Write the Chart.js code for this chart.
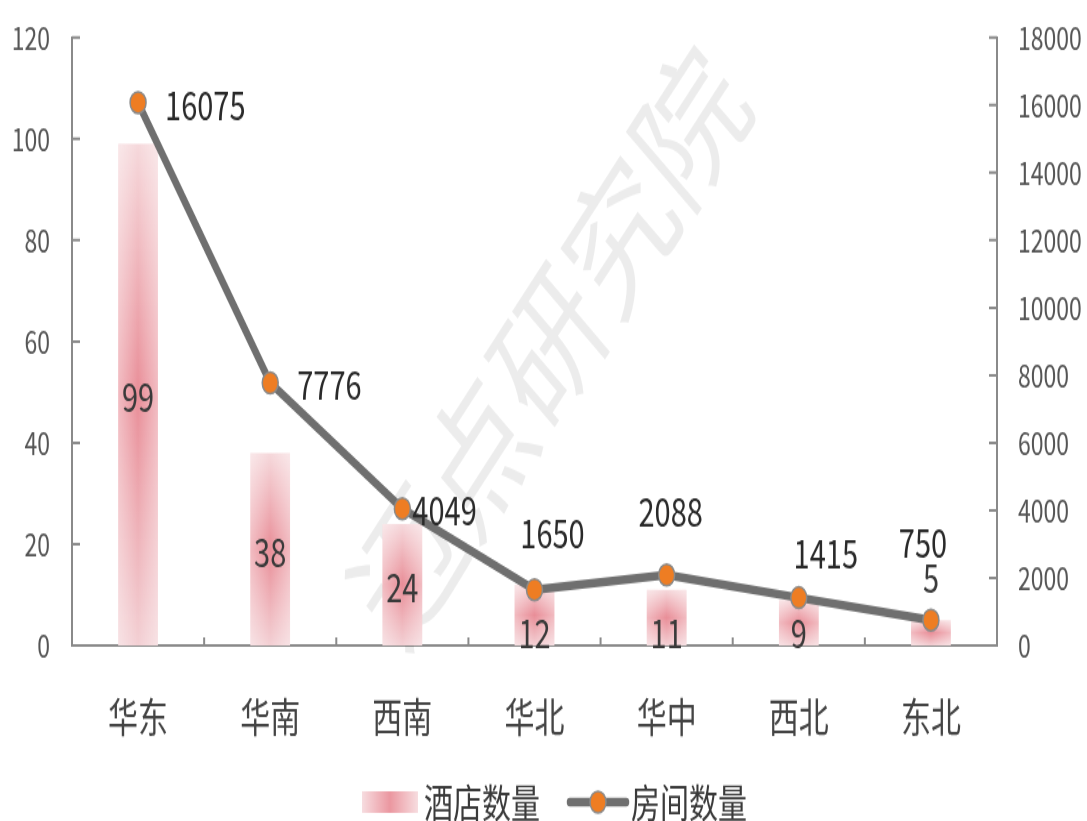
<!DOCTYPE html>
<html>
<head>
<meta charset="utf-8">
<script src="https://cdn.jsdelivr.net/npm/chart.js@4/dist/chart.umd.min.js"></script>
<style>
  html, body { margin: 0; padding: 0; background: #fff; }
</style>
</head>
<body>
<!-- drawn short and stretched tall, like the original export -->
<canvas id="chart" width="1087" height="608" style="display:block;width:1087px;height:821px"></canvas>
<script>
// ── data ──
const regions = ['华东', '华南', '西南', '华北', '华中', '西北', '东北'];
const hotelCounts = [99, 38, 24, 12, 11, 9, 5];
const roomCounts = [16075, 7776, 4049, 1650, 2088, 1415, 750];
const leftTicks = [0, 20, 40, 60, 80, 100, 120];
const rightTicks = [0, 2000, 4000, 6000, 8000, 10000, 12000, 14000, 16000, 18000];

const FONT = '"Noto Sans CJK SC", "Noto Sans", sans-serif';
const TEXT = '#3a3a3a';
const AXIS = '#8a8a8a';

// where each room label sits relative to its point: [dx, dy, align]
const roomLabelPos = [
  [27, 2, 'left'], [27, 1, 'left'], [10, 1, 'left'],
  [18, -42, 'center'], [4, -47, 'center'], [27, -33, 'center'], [-8, -57, 'center']
];

function barGradient(ctx, top, base) {
  const g = ctx.createLinearGradient(0, top, 0, base);
  g.addColorStop(0, '#f6d9dc');
  g.addColorStop(0.5, '#e98e98');
  g.addColorStop(1, '#f3d0d4');
  return g;
}

// watermark behind the marks
const watermark = {
  id: 'watermark',
  beforeDatasetsDraw(chart) {
    const ctx = chart.ctx;
    ctx.save();
    ctx.translate(548, 256);
    ctx.rotate(-49 * Math.PI / 180);
    ctx.font = '108px ' + FONT;
    ctx.fillStyle = 'rgba(0,0,0,0.075)';
    ctx.textAlign = 'center';
    ctx.textBaseline = 'middle';
    ctx.fillText('迈点研究院', 0, 0);
    ctx.restore();
  }
};

// inward tick marks on all three axes
const innerTicks = {
  id: 'innerTicks',
  afterDraw(chart) {
    const ctx = chart.ctx;
    const { y, y1 } = chart.scales;
    const area = chart.chartArea;
    ctx.save();
    ctx.strokeStyle = AXIS;
    ctx.lineWidth = 2;
    ctx.beginPath();
    leftTicks.forEach(v => {
      const py = y.getPixelForValue(v);
      ctx.moveTo(area.left, py); ctx.lineTo(area.left + 8, py);
    });
    rightTicks.forEach(v => {
      const py = y1.getPixelForValue(v);
      ctx.moveTo(area.right, py); ctx.lineTo(area.right - 8, py);
    });
    const step = (area.right - area.left) / regions.length;
    for (let i = 1; i < regions.length; i++) {
      const px = area.left + step * i;
      ctx.moveTo(px, area.bottom); ctx.lineTo(px, area.bottom - 6);
    }
    ctx.stroke();
    ctx.restore();
  }
};

// soften bar edges and write the values
const barDecor = {
  id: 'barDecor',
  afterDatasetDraw(chart, args) {
    const ctx = chart.ctx;
    if (args.index === 1) {
      const meta = chart.getDatasetMeta(1);
      ctx.save();
      meta.data.forEach(bar => {
        const l = bar.x - bar.width / 2, r = bar.x + bar.width / 2;
        const g = ctx.createLinearGradient(l, 0, r, 0);
        g.addColorStop(0, 'rgba(255,255,255,0.4)');
        g.addColorStop(0.5, 'rgba(255,255,255,0)');
        g.addColorStop(1, 'rgba(255,255,255,0.4)');
        ctx.fillStyle = g;
        ctx.fillRect(l, bar.y, bar.width, bar.base - bar.y);
      });
      ctx.font = '29px ' + FONT;
      ctx.fillStyle = TEXT;
      ctx.textAlign = 'center';
      ctx.textBaseline = 'middle';
      meta.data.forEach((bar, i) => {
        const h = bar.base - bar.y;
        let ly = (bar.y + bar.base) / 2 + 2;
        if (h < 52 && hotelCounts[i] >= 9) ly = bar.base - 9;
        else if (h < 52) ly = bar.y - 31;
        ctx.fillText(String(hotelCounts[i]), bar.x, ly);
      });
      ctx.restore();
    }
    if (args.index === 0) {
      const meta = chart.getDatasetMeta(0);
      ctx.save();
      ctx.font = '29px ' + FONT;
      ctx.fillStyle = '#2a2a2a';
      ctx.textBaseline = 'middle';
      meta.data.forEach((pt, i) => {
        const [dx, dy, align] = roomLabelPos[i];
        ctx.textAlign = align;
        ctx.fillText(String(roomCounts[i]), pt.x + dx, pt.y + dy);
      });
      ctx.restore();
    }
  }
};

// legend under the axis
const bottomLegend = {
  id: 'bottomLegend',
  afterDraw(chart) {
    const ctx = chart.ctx;
    const cy = 594;
    ctx.save();
    const g = ctx.createLinearGradient(362, 0, 418, 0);
    g.addColorStop(0, '#f7dde0');
    g.addColorStop(0.5, '#eb97a0');
    g.addColorStop(1, '#f7dde0');
    ctx.fillStyle = g;
    ctx.fillRect(362, cy - 8, 56, 16);
    ctx.font = '29px ' + FONT;
    ctx.fillStyle = TEXT;
    ctx.textBaseline = 'middle';
    ctx.textAlign = 'left';
    ctx.fillText('酒店数量', 424, cy + 1);

    ctx.strokeStyle = '#6f6f6f';
    ctx.lineWidth = 6.5;
    ctx.lineCap = 'round';
    ctx.beginPath();
    ctx.moveTo(570, cy); ctx.lineTo(626, cy);
    ctx.stroke();
    ctx.beginPath();
    ctx.arc(598, cy, 8, 0, Math.PI * 2);
    ctx.fillStyle = '#ee7d23';
    ctx.fill();
    ctx.lineWidth = 1.5;
    ctx.strokeStyle = '#8a8a8a';
    ctx.stroke();
    ctx.fillStyle = TEXT;
    ctx.fillText('房间数量', 631, cy + 1);
    ctx.restore();
  }
};

const ctx = document.getElementById('chart').getContext('2d');

new Chart(ctx, {
  data: {
    labels: regions,
    datasets: [
      {
        type: 'line',
        label: '房间数量',
        data: roomCounts,
        yAxisID: 'y1',
        order: 0,
        borderColor: '#6f6f6f',
        borderWidth: 6.5,
        tension: 0,
        pointRadius: 8,
        pointBackgroundColor: '#ee7d23',
        pointBorderColor: '#8a8a8a',
        pointBorderWidth: 1.5
      },
      {
        type: 'bar',
        label: '酒店数量',
        data: hotelCounts,
        yAxisID: 'y',
        order: 1,
        categoryPercentage: 1,
        barPercentage: 0.3,
        backgroundColor: (c) => {
          const ys = c.chart.scales.y;
          if (!ys || c.raw == null) return '#eb97a0';
          const top = ys.getPixelForValue(c.raw);
          const base = ys.getPixelForValue(0);
          if (!isFinite(top) || !isFinite(base) || top === base) return '#eb97a0';
          return barGradient(c.chart.ctx, top, base);
        }
      }
    ]
  },
  options: {
    responsive: false,
    devicePixelRatio: 1,
    animation: false,
    layout: { padding: { top: 10, left: 0, right: 0, bottom: 0 } },
    plugins: {
      legend: { display: false },
      tooltip: { enabled: false }
    },
    scales: {
      x: {
        grid: { display: false },
        border: { display: true, color: AXIS, width: 2 },
        ticks: {
          color: '#444',
          font: { family: FONT, size: 30 },
          padding: 27
        },
        afterFit: (s) => { s.height = 608 - 478; }
      },
      y: {
        position: 'left',
        min: 0,
        max: 120,
        grid: { display: false },
        border: { display: true, color: AXIS, width: 2 },
        ticks: {
          stepSize: 20,
          color: '#555',
          font: { family: FONT, size: 23 },
          padding: 14
        },
        afterFit: (s) => { s.width = 72; }
      },
      y1: {
        position: 'right',
        min: 0,
        max: 18000,
        grid: { display: false },
        border: { display: true, color: AXIS, width: 2 },
        ticks: {
          stepSize: 2000,
          color: '#555',
          font: { family: FONT, size: 23 },
          padding: 13,
          callback: (v) => String(v)
        },
        afterFit: (s) => { s.width = 90; }
      }
    }
  },
  plugins: [watermark, barDecor, innerTicks, bottomLegend]
});
</script>
</body>
</html>
